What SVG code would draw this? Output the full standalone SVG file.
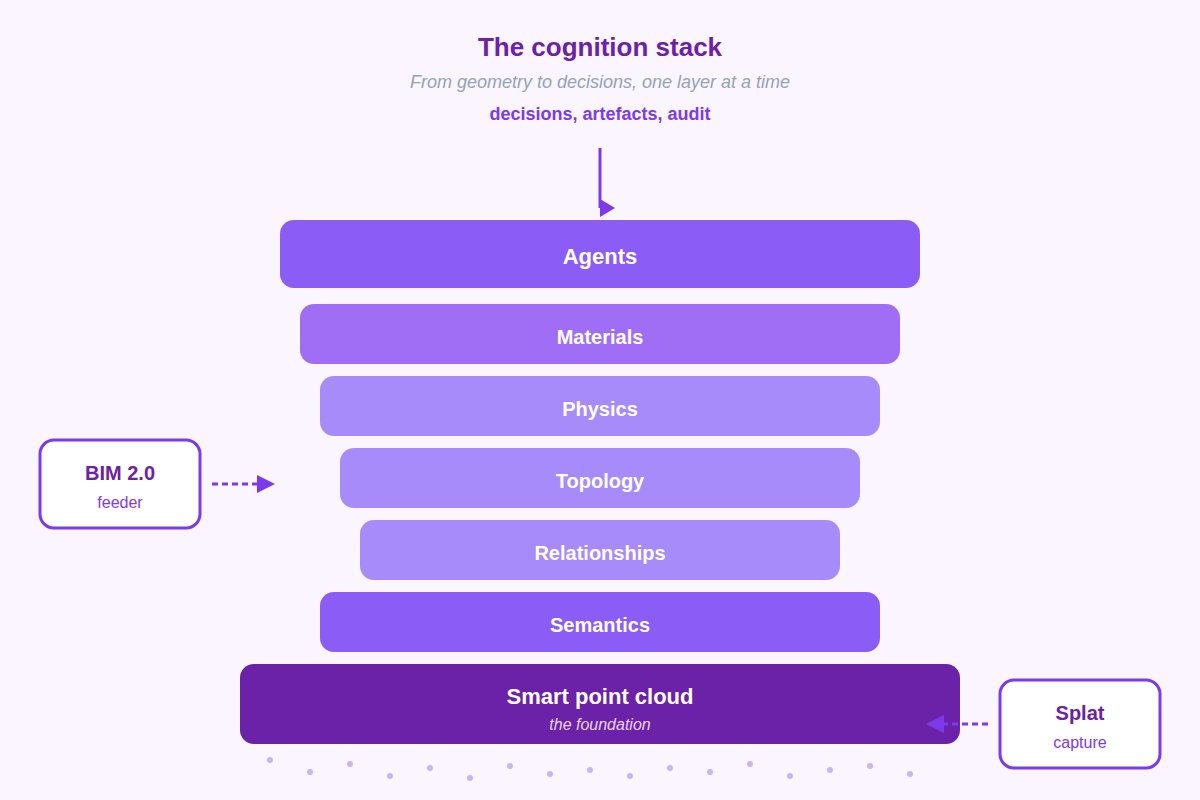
<svg xmlns="http://www.w3.org/2000/svg" width="1200" height="800" viewBox="0 0 1200 800">
<style>
text{font-family:"Liberation Sans",Arial,sans-serif;text-anchor:middle}
.l{fill:#fff;font-weight:700}
.f{fill:#fff;stroke:#7c3aed;stroke-width:3}
.t{fill:#6b21a8;font-weight:700;font-size:20px}
.s{fill:#7c3aed;font-size:16px}
.c{fill:none;stroke:#7c3aed;stroke-width:3}
.d{stroke-dasharray:6 4}
.dots circle{fill:#c4b5fd;r:3px}
</style>
<defs>
<marker id="ad" markerUnits="userSpaceOnUse" markerWidth="15" markerHeight="18" refX="0" refY="9" orient="0" overflow="visible"><path d="M0 0L15 9L0 18Z" fill="#7c3aed"/></marker>
<marker id="ar" markerUnits="userSpaceOnUse" markerWidth="18" markerHeight="18" refX="0" refY="9" orient="0" overflow="visible"><path d="M0 0L18 9L0 18Z" fill="#7c3aed"/></marker>
<marker id="al" markerUnits="userSpaceOnUse" markerWidth="18" markerHeight="18" refX="18" refY="9" orient="0" overflow="visible"><path d="M18 0L0 9L18 18Z" fill="#7c3aed"/></marker>
</defs>
<rect width="1200" height="800" fill="#faf5ff"/>
<text x="600" y="56" font-size="26" font-weight="700" fill="#6b21a8">The cognition stack</text>
<text x="600" y="88" font-size="18" font-style="italic" fill="#94a3b8">From geometry to decisions, one layer at a time</text>
<text x="600" y="120" font-size="18" font-weight="700" fill="#7c3aed">decisions, artefacts, audit</text>
<g id="agents"><rect x="280" y="220" width="640" height="68" rx="14" fill="#8b5cf6"/><text class="l" x="600" y="264" font-size="22">Agents</text></g>
<g id="materials"><rect x="300" y="304" width="600" height="60" rx="14" fill="#9f6ef5"/><text class="l" x="600" y="344" font-size="20">Materials</text></g>
<g id="physics"><rect x="320" y="376" width="560" height="60" rx="14" fill="#a78bfa"/><text class="l" x="600" y="416" font-size="20">Physics</text></g>
<g id="topology"><rect x="340" y="448" width="520" height="60" rx="14" fill="#a78bfa"/><text class="l" x="600" y="488" font-size="20">Topology</text></g>
<g id="relationships"><rect x="360" y="520" width="480" height="60" rx="14" fill="#a78bfa"/><text class="l" x="600" y="560" font-size="20">Relationships</text></g>
<g id="semantics"><rect x="320" y="592" width="560" height="60" rx="14" fill="#8b5cf6"/><text class="l" x="600" y="632" font-size="20">Semantics</text></g>
<g id="smart-point-cloud"><rect x="240" y="664" width="720" height="80" rx="14" fill="#6b21a8"/><text class="l" x="600" y="704" font-size="22">Smart point cloud</text><text x="600" y="730" font-size="16" font-style="italic" fill="#e9d5ff">the foundation</text></g>
<g id="bim"><rect class="f" x="40" y="440" width="160" height="88" rx="14"/><text class="t" x="120" y="480">BIM 2.0</text><text class="s" x="120" y="508">feeder</text></g>
<g id="splat"><rect class="f" x="1000" y="680" width="160" height="88" rx="14"/><text class="t" x="1080" y="720">Splat</text><text class="s" x="1080" y="748">capture</text></g>
<g id="connectors">
<path class="c" d="M600 148V208" marker-end="url(#ad)"/>
<path class="c d" d="M212 484H257" marker-end="url(#ar)"/>
<path class="c d" d="M988 724H944" marker-end="url(#al)"/>
</g>
<g class="dots">
<circle cx="270" cy="760"/><circle cx="310" cy="772"/><circle cx="350" cy="764"/><circle cx="390" cy="776"/><circle cx="430" cy="768"/><circle cx="470" cy="778"/><circle cx="510" cy="766"/><circle cx="550" cy="774"/><circle cx="590" cy="770"/><circle cx="630" cy="776"/><circle cx="670" cy="768"/><circle cx="710" cy="772"/><circle cx="750" cy="764"/><circle cx="790" cy="776"/><circle cx="830" cy="770"/><circle cx="870" cy="766"/><circle cx="910" cy="774"/>
</g>
</svg>
